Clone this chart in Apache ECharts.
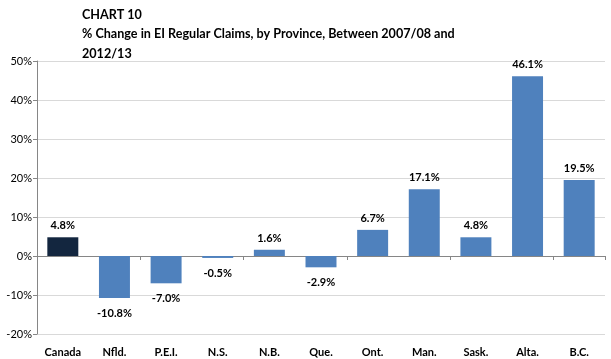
<!DOCTYPE html>
<html><head><meta charset="utf-8">
<script src="https://cdn.jsdelivr.net/npm/echarts@6/dist/echarts.min.js"></script>
<style>html,body{margin:0;padding:0;background:#fff}#c{width:611px;height:359px}</style>
</head><body><div id="c"></div>
<script>
var categories = ['Canada','Nfld.','P.E.I.','N.S.','N.B.','Que.','Ont.','Man.','Sask.','Alta.','B.C.'];
var values = [4.8,-10.8,-7.0,-0.5,1.6,-2.9,6.7,17.1,4.8,46.1,19.5];
var yTicks = {min:-20, max:50, interval:10};
var titleLines = ['CHART 10','% Change in EI Regular Claims, by Province, Between 2007/08 and','2012/13'];

var FONT = 'Lato';
var data = values.map(function(v,i){
  return {
    value: v,
    itemStyle: {color: i === 0 ? '#13263f' : '#4f81bd'},
    label: {position: v >= 0 ? 'top' : 'bottom', distance: v >= 0 ? 6 : 10}
  };
});
var chart = echarts.init(document.getElementById('c'));
chart.setOption({
  animation:false,
  title:{text:titleLines.join('\n'), left:77, top:0,
    textStyle:{fontFamily:FONT,fontSize:12.6,fontWeight:'bold',color:'#000',lineHeight:19.5}},
  grid:{left:37,right:6,top:61,bottom:25,containLabel:false},
  xAxis:[{type:'category',data:categories,position:'bottom',
      axisLine:{onZero:true,lineStyle:{color:'#868686',width:1}},
      axisTick:{show:true,length:4,lineStyle:{color:'#868686'}},
      axisLabel:{show:false},splitLine:{show:false}},
    {type:'category',data:categories,position:'bottom',
      axisLine:{show:false,onZero:false},axisTick:{show:false},
      axisLabel:{margin:13,fontFamily:FONT,fontSize:11,fontWeight:'bold',color:'#000'}}],
  yAxis:{type:'value',min:yTicks.min,max:yTicks.max,interval:yTicks.interval,
    axisLine:{show:true,lineStyle:{color:'#868686'}},
    axisTick:{show:true,length:4,lineStyle:{color:'#868686'}},
    axisLabel:{formatter:'{value}%',margin:5,fontFamily:FONT,fontSize:11,color:'#000'},
    splitLine:{lineStyle:{color:'#d9d9d9'}}},
  series:[{type:'bar',data:data,barWidth:'60%',xAxisIndex:0,
    label:{show:true,fontFamily:FONT,fontSize:11,fontWeight:'bold',color:'#000',
      formatter:function(p){return p.value.toFixed(1)+'%';}}}]
});
</script></body></html>
